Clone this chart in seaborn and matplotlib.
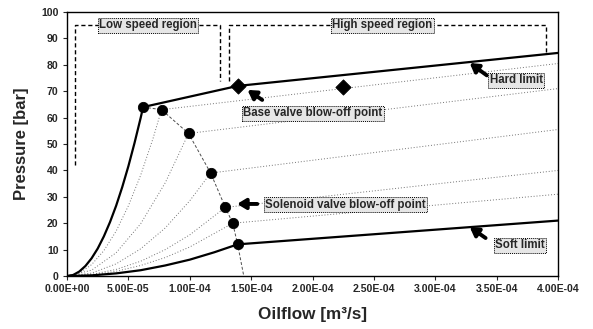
import matplotlib
matplotlib.use("Agg")
import matplotlib.pyplot as plt
import seaborn as sns
import pandas as pd
from matplotlib.ticker import MultipleLocator

# ---- data (flow in 1e-5 m^3/s, pressure in bar) ----
hard_x = [0, 0.5, 1, 1.5, 2, 2.5, 3, 3.5, 4, 4.5, 5, 5.5, 6, 6.2, 13.9, 40]
hard_y = [0, 0.4, 1.7, 3.8, 6.7, 10.4, 15, 20.4, 26.6, 33.7, 41.6, 50.4, 59.9, 64, 72, 84.5]

soft_x = [0, 2, 4, 6, 8, 10, 12, 13.9, 40]
soft_y = [0, 0.25, 1.0, 2.2, 4.0, 6.2, 9.0, 12, 21]

fan2_x = [0, 1, 2, 3, 4, 5, 6, 7, 7.7, 40]
fan2_y = [0, 1.1, 4.3, 9.6, 17, 26.6, 38.2, 52, 63, 80.5]
fan3_x = [0, 2, 4, 6, 8, 9.9, 40]
fan3_y = [0, 2.2, 8.8, 19.8, 35.3, 54, 71]
fan4_x = [0, 2, 4, 6, 8, 10, 11.7, 40]
fan4_y = [0, 1.1, 4.6, 10.3, 18.2, 28.5, 39, 55.5]
fan5_x = [0, 2, 4, 6, 8, 10, 12.9, 40]
fan5_y = [0, 0.6, 2.5, 5.6, 10, 15.6, 26, 40]
fan6_x = [0, 2, 4, 6, 8, 10, 13.5, 40]
fan6_y = [0, 0.4, 1.8, 4.0, 7.0, 11, 20, 31]

sol_x = [6.2, 7.7, 9.9, 11.7, 12.9, 13.5, 13.9]
sol_y = [64, 63, 54, 39, 26, 20, 12]
locus_x = [6.2, 7.7, 9.9, 11.7, 12.9, 13.5, 13.9, 14.4]
locus_y = [64, 63, 54, 39, 26, 20, 12, 0]

base_x = [13.9, 22.5]
base_y = [72, 71.6]

xticks = [0, 5, 10, 15, 20, 25, 30, 35, 40]
xtick_labels = ["0.00E+00", "5.00E-05", "1.00E-04", "1.50E-04", "2.00E-04",
                "2.50E-04", "3.00E-04", "3.50E-04", "4.00E-04"]

sns.set_style("white")
plt.rcParams['font.family'] = ['Liberation Sans', 'DejaVu Sans']

fig = plt.figure(figsize=(5.93, 3.29), dpi=100)
ax = fig.add_axes([0.113, 0.161, 0.828, 0.8025])

def line(xs, ys, **kw):
    df = pd.DataFrame({"x": xs, "y": ys})
    sns.lineplot(data=df, x="x", y="y", sort=False, estimator=None, ax=ax, **kw)

for fx, fy in [(fan2_x, fan2_y), (fan3_x, fan3_y), (fan4_x, fan4_y),
               (fan5_x, fan5_y), (fan6_x, fan6_y)]:
    line(fx, fy, color="0.45", linewidth=0.7, linestyle=(0, (1, 2)))
line(locus_x, locus_y, color="0.3", linewidth=0.7, linestyle=(0, (3, 2)))
line(hard_x, hard_y, color="black", linewidth=1.6)
line(soft_x, soft_y, color="black", linewidth=1.6)

sns.scatterplot(x=sol_x, y=sol_y, ax=ax, color="black", s=55, marker="o",
                edgecolor="black", zorder=5)
sns.scatterplot(x=base_x, y=base_y, ax=ax, color="black", s=60, marker="D",
                edgecolor="black", zorder=5)

# region brackets
dash = dict(color="black", linewidth=1.0, linestyle=(0, (3, 2)))
ax.plot([0.65, 0.65, 12.46, 12.46], [42, 95, 95, 74], **dash)
ax.plot([13.2, 13.2, 39.0, 39.0], [74, 95, 95, 84], **dash)

box = dict(boxstyle="square,pad=0.12", facecolor="#e6e6e6", edgecolor="black",
           linewidth=0.7, linestyle=(0, (1, 1)))
tk = dict(fontsize=8.3, fontweight="bold", ha="center", va="center", bbox=box, zorder=6)
ax.text(6.6, 95, "Low speed region", **tk)
ax.text(25.7, 95, "High speed region", **tk)
ax.text(20.0, 61.7, "Base valve blow-off point", **tk)
ax.text(22.7, 27, "Solenoid valve blow-off point", **tk)
ax.text(36.6, 74.2, "Hard limit", **tk)
ax.text(36.9, 11.7, "Soft limit", **tk)

arr = dict(arrowstyle="-|>,head_length=0.5,head_width=0.3", color="black",
           lw=2.8, shrinkA=0, shrinkB=0)
ax.annotate("", xy=(14.7, 70.5), xytext=(15.9, 66.7), arrowprops=arr)
ax.annotate("", xy=(13.85, 27.3), xytext=(15.5, 27.3), arrowprops=arr)
ax.annotate("", xy=(32.8, 80.7), xytext=(34.2, 76.0), arrowprops=arr)
ax.annotate("", xy=(32.8, 18.6), xytext=(34.1, 14.4), arrowprops=arr)

ax.set_xlim(0, 40)
ax.set_ylim(0, 100)
ax.set_xticks(xticks)
ax.set_xticklabels(xtick_labels)
ax.yaxis.set_major_locator(MultipleLocator(10))
for lab in ax.get_xticklabels() + ax.get_yticklabels():
    lab.set_fontweight("bold")
    lab.set_fontsize(7.6)
ax.tick_params(axis="both", length=3, width=0.8, direction="out", pad=3)
ax.tick_params(axis="y", left=True)
ax.tick_params(axis="x", bottom=True)
for s in ax.spines.values():
    s.set_color("black")
    s.set_linewidth(1.0)
ax.set_xlabel("Oilflow [m³/s]", fontsize=12.3, fontweight="bold", labelpad=9)
ax.set_ylabel("Pressure [bar]", fontsize=12, fontweight="bold", labelpad=9)

fig.savefig("out.png", dpi=100)
